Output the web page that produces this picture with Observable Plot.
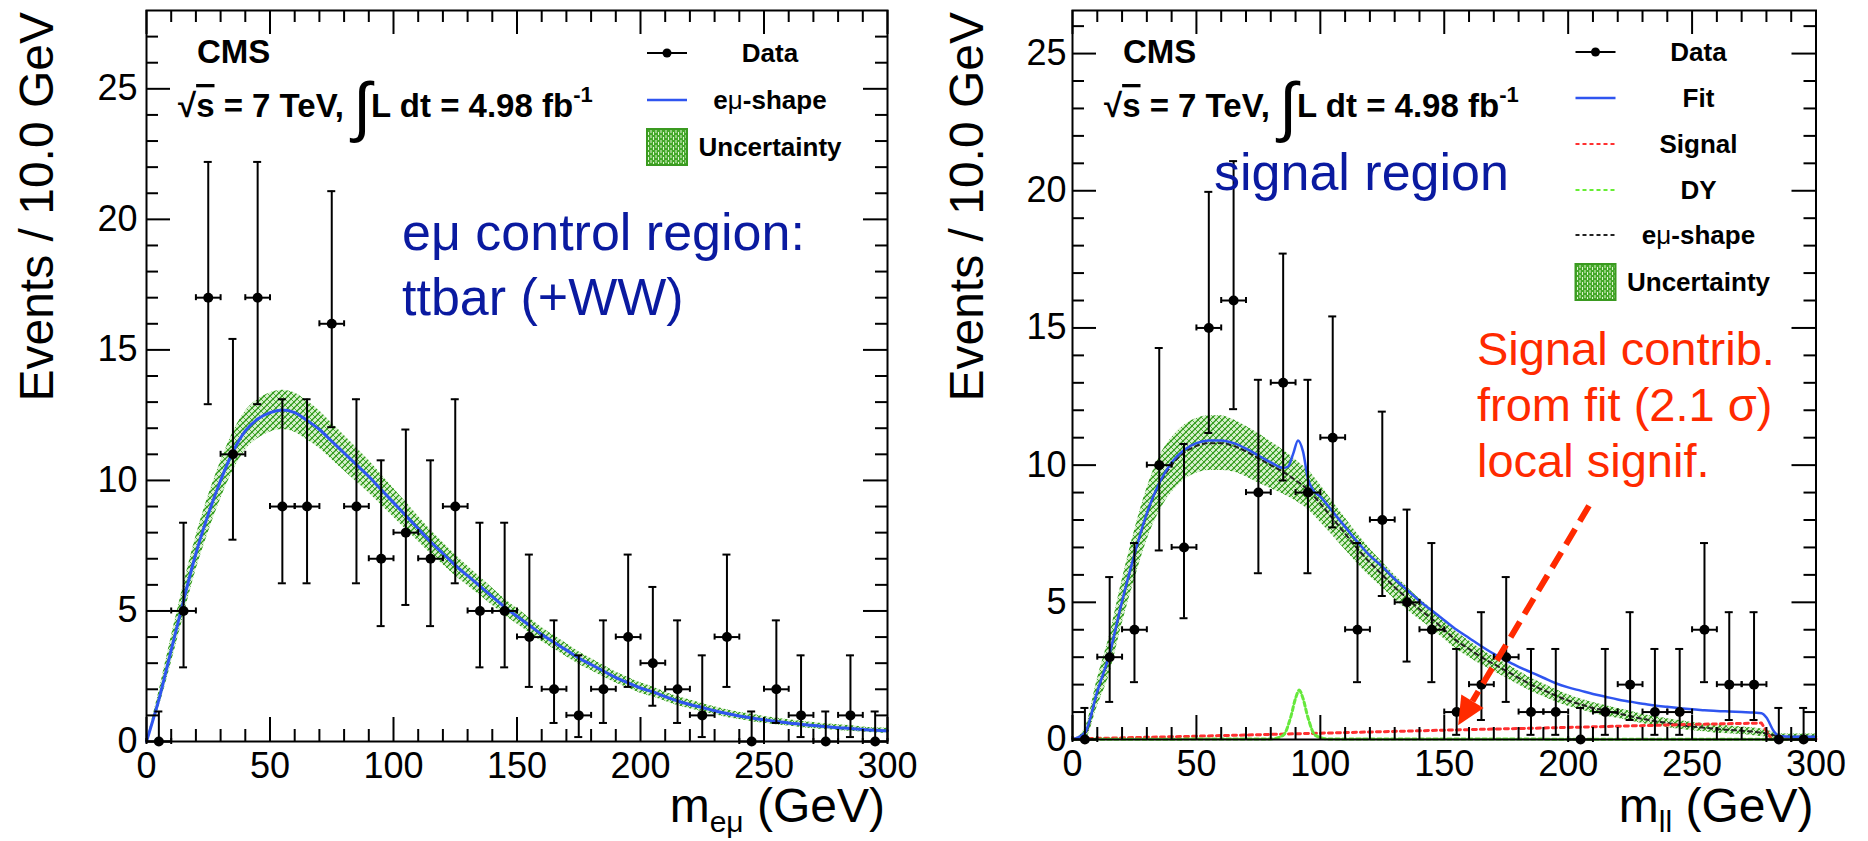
<!DOCTYPE html>
<html><head><meta charset="utf-8">
<script src="https://cdn.jsdelivr.net/npm/d3@7/dist/d3.min.js"></script>
<script src="https://cdn.jsdelivr.net/npm/@observablehq/plot@0.6/dist/plot.umd.min.js"></script>
<style>
body{margin:0;background:#fff;}
#wrap{display:flex;width:1868px;height:841px;overflow:hidden;}
#wrap svg{display:block;}
</style></head><body>
<svg width="0" height="0" style="position:absolute">
<defs>
<pattern id="hatch" patternUnits="userSpaceOnUse" width="6" height="6">
<rect width="6" height="6" fill="rgba(150,215,120,0.35)"/>
<path d="M0,6 L6,0 M-1,1 L1,-1 M5,7 L7,5" stroke="#2f9a18" stroke-width="1.3"/>
<path d="M0,0 L6,6 M-1,5 L1,7 M5,-1 L7,1" stroke="#2f9a18" stroke-width="0.8"/>
</pattern>
<pattern id="hatchBox" patternUnits="userSpaceOnUse" width="5" height="5">
<rect width="5" height="5" fill="#45a82a"/>
<path d="M1,0 L1,3 M3.5,2 L3.5,5" stroke="#dff5d0" stroke-width="1"/>
</pattern>
</defs></svg>
<div id="wrap"></div>
<script>
// ---------- data ----------
const binCenters = [5,15,25,35,45,55,65,75,85,95,105,115,125,135,145,155,165,175,185,195,205,215,225,235,245,255,265,275,285,295];
const countsEmu = [0,5,17,11,17,9,9,16,9,7,8,7,9,5,5,4,2,1,2,4,3,2,1,4,0,2,1,0,1,0];
const countsLL  = [0,3,4,10,7,15,16,9,13,9,11,4,8,5,4,1,2,3,1,1,0,1,2,1,1,4,2,2,0,0];
// Poisson error bar ends by count n = 0..17
const poissonLo = [0,0.17,0.71,1.37,2.09,2.84,3.62,4.42,5.23,6.06,6.89,7.73,8.58,9.44,10.30,11.17,12.04,12.92];
const poissonHi = [1.15,3.30,4.64,5.92,7.16,8.38,9.58,10.77,11.95,13.11,14.27,15.42,16.57,17.71,18.84,19.96,21.08,22.20];

const gridX = [0,5,10,15,20,25,30,35,40,45,50,55,60,65,70,75,80,85,90,95,100,105,110,115,120,125,130,135,140,145,150,155,160,165,170,175,180,185,190,195,200,205,210,215,220,225,230,235,240,245,250,255,260,265,270,275,280,285,290,295,300];
const emuShapeL = [0,1.6,3.5,5.4,7.2,8.7,10.0,11.1,11.9,12.35,12.6,12.7,12.6,12.3,11.95,11.5,11.05,10.6,10.15,9.65,9.15,8.65,8.15,7.65,7.2,6.75,6.35,5.95,5.55,5.15,4.8,4.45,4.1,3.8,3.5,3.2,2.95,2.7,2.45,2.25,2.05,1.9,1.72,1.55,1.42,1.3,1.18,1.07,0.98,0.9,0.83,0.77,0.71,0.66,0.61,0.57,0.53,0.5,0.46,0.43,0.41];
const emuBandL = [0,0.3,0.5,0.6,0.65,0.7,0.72,0.74,0.75,0.75,0.75,0.75,0.75,0.74,0.72,0.7,0.68,0.65,0.62,0.58,0.55,0.52,0.48,0.45,0.42,0.4,0.37,0.35,0.33,0.31,0.3,0.28,0.27,0.26,0.25,0.24,0.23,0.22,0.21,0.2,0.2,0.19,0.18,0.17,0.17,0.16,0.15,0.15,0.14,0.14,0.13,0.13,0.12,0.12,0.12,0.11,0.11,0.11,0.1,0.1,0.1];
const emuShapeR = [0,0.2,1.7,3.1,5.0,6.7,8.2,9.3,10.0,10.45,10.7,10.8,10.8,10.7,10.5,10.25,10.0,9.75,9.45,9.1,8.6,8.05,7.5,6.95,6.45,6.0,5.55,5.15,4.75,4.4,4.0,3.6,3.3,3.0,2.75,2.5,2.25,2.0,1.8,1.6,1.42,1.28,1.15,1.05,0.95,0.85,0.75,0.67,0.6,0.53,0.47,0.43,0.38,0.35,0.32,0.28,0.22,0.12,0.1,0.1,0.1];
const emuBandR = [0,0.2,0.5,0.7,0.8,0.9,0.95,1.0,1.0,1.0,1.0,1.0,1.0,0.95,0.92,0.9,0.85,0.8,0.75,0.72,0.68,0.62,0.58,0.54,0.5,0.47,0.44,0.41,0.38,0.36,0.34,0.32,0.3,0.28,0.27,0.26,0.25,0.24,0.23,0.22,0.21,0.2,0.2,0.19,0.18,0.18,0.17,0.17,0.16,0.16,0.15,0.15,0.15,0.14,0.14,0.14,0.13,0.1,0.1,0.1,0.1];
const fitX = [0,5,10,15,20,25,30,35,40,45,50,55,60,65,70,75,80,85,87,89,91,93,95,97,100,105,110,115,120,125,130,135,140,145,150,155,160,165,170,175,180,185,190,195,200,205,210,215,220,225,230,235,240,245,250,255,260,265,270,275,278,280,283,285,290,295,300];
const fitY = [0,0.25,1.75,3.15,5.05,6.75,8.25,9.35,10.1,10.55,10.8,10.9,10.9,10.8,10.6,10.35,10.1,9.9,9.95,10.4,10.9,10.5,9.5,9.1,8.85,8.3,7.75,7.2,6.7,6.3,5.85,5.45,5.05,4.7,4.35,4.0,3.7,3.4,3.12,2.88,2.65,2.45,2.25,2.05,1.9,1.78,1.66,1.56,1.46,1.38,1.3,1.24,1.19,1.14,1.1,1.07,1.04,1.02,1.0,0.98,0.96,0.8,0.3,0.13,0.1,0.1,0.1];
const signalX = [0,50,100,150,200,250,278,282,300];
const signalY = [0.02,0.12,0.23,0.34,0.44,0.55,0.6,0.02,0.02];
const dyX = [0,80,85,88,90,91.5,93,95,98,103,300];
const dyY = [0.01,0.02,0.15,0.8,1.5,1.8,1.5,0.8,0.15,0.02,0.01];

const majorX = [0,50,100,150,200,250,300];
const majorY = [0,5,10,15,20,25];

// ---------- style ----------
const FONT = "Liberation Sans, Arial, Helvetica, sans-serif";
const BLUE = "#2f55f0";
const NAVY = "#0a1aa0";
const RED = "#ff2a00";

function panel(cfg) {
  const rows = cfg.counts.map((n, i) => ({x: binCenters[i], n, lo: poissonLo[n], hi: poissonHi[n]}));
  const band = gridX.map((x, i) => ({x, y: cfg.shape[i], lo: Math.max(0, cfg.shape[i] - cfg.band[i]), hi: cfg.shape[i] + cfg.band[i]}));
  const minorX = d3.range(0, 301, 10).filter(v => v % 50);
  const minorY = d3.range(0, cfg.ymax, 1).filter(v => v % 5);
  const ymax = cfg.ymax;
  const tick = {stroke: "black", strokeWidth: 2};
  const marks = [
    Plot.areaY(band, {x: "x", y1: "lo", y2: "hi", fill: "url(#hatch)", curve: "monotone-x"}),
    ...cfg.extra,
    // data error bars
    Plot.ruleX(rows, {x: "x", y1: "lo", y2: "hi", stroke: "black", strokeWidth: 2}),
    Plot.ruleY(rows, {x1: "x", x2: "x", y: "hi", insetLeft: -4, insetRight: -4, stroke: "black", strokeWidth: 2}),
    Plot.ruleY(rows.filter(d => d.lo > 0), {x1: "x", x2: "x", y: "lo", insetLeft: -4, insetRight: -4, stroke: "black", strokeWidth: 2}),
    Plot.ruleY(rows, {x1: d => d.x - 5, x2: d => d.x + 5, y: "n", stroke: "black", strokeWidth: 2}),
    Plot.ruleX(rows, {x: d => d.x - 5, y1: "n", y2: "n", insetTop: -3, insetBottom: -3, stroke: "black", strokeWidth: 2}),
    Plot.ruleX(rows, {x: d => d.x + 5, y1: "n", y2: "n", insetTop: -3, insetBottom: -3, stroke: "black", strokeWidth: 2}),
    Plot.dot(rows, {x: "x", y: "n", r: 5, fill: "black"}),
    // inward ticks on all sides
    Plot.ruleX(majorX, {x: d => d, y1: 0, y2: 0, insetBottom: 24, ...tick}),
    Plot.ruleX(minorX, {x: d => d, y1: 0, y2: 0, insetBottom: 12, ...tick}),
    Plot.ruleX(majorX, {x: d => d, y1: ymax, y2: ymax, insetTop: 24, ...tick}),
    Plot.ruleX(minorX, {x: d => d, y1: ymax, y2: ymax, insetTop: 12, ...tick}),
    Plot.ruleY(majorY, {y: d => d, x1: 0, x2: 0, insetRight: -24, ...tick}),
    Plot.ruleY(minorY, {y: d => d, x1: 0, x2: 0, insetRight: -12, ...tick}),
    Plot.ruleY(majorY, {y: d => d, x1: 300, x2: 300, insetLeft: -24, ...tick}),
    Plot.ruleY(minorY, {y: d => d, x1: 300, x2: 300, insetLeft: -12, ...tick}),
    Plot.frame({stroke: "black", strokeWidth: 2}),
    Plot.axisX({ticks: majorX, tickSize: 0, tickPadding: 11, fontSize: 36, label: null, tickFormat: d => String(d)}),
    Plot.axisY({ticks: majorY, tickSize: 0, tickPadding: cfg.yPad, fontSize: 36, label: null, tickFormat: d => String(d)})
  ];
  const chart = Plot.plot({
    width: 934, height: 841,
    marginLeft: cfg.ml, marginRight: cfg.mr, marginTop: 10, marginBottom: cfg.mb,
    x: {domain: [0, 300]},
    y: {domain: [0, ymax]},
    style: {fontFamily: FONT, background: "white", color: "black", overflow: "visible"},
    marks
  });
  return chart;
}

function addCommon(chart, cfg) {
  const svg = d3.select(chart);
  const fl = cfg.ml, fr = 934 - cfg.mr;
  const g = svg.append("g").attr("font-family", FONT).attr("text-anchor", "start");
  // CMS labels
  g.append("text").attr("x", fl + 51).attr("y", 63).attr("font-weight", "bold").attr("font-size", 33).text("CMS");
  const t = g.append("text").attr("x", fl + 32).attr("y", 117).attr("font-weight", "bold").attr("font-size", 33);
  t.append("tspan").text("√");
  t.append("tspan").attr("text-decoration", "overline").text("s");
  t.append("tspan").text(" = 7 TeV, ");
  t.append("tspan").attr("font-size", 66).attr("font-weight", "normal").attr("dy", 12).text("∫");
  t.append("tspan").attr("dy", -12).text("L dt = 4.98 fb");
  t.append("tspan").attr("font-size", 22).attr("dy", -15).text("-1");
  // axis titles
  g.append("text").attr("transform", `translate(${cfg.yTitleX},12) rotate(-90)`).attr("text-anchor", "end")
    .attr("font-size", 48).text("Events / 10.0 GeV");
  const xt = g.append("text").attr("x", fr - 2).attr("y", 822).attr("text-anchor", "end").attr("font-size", 48);
  xt.append("tspan").text("m");
  xt.append("tspan").attr("font-size", 30).attr("dy", 10).text(cfg.sub);
  xt.append("tspan").attr("dy", -10).text(" (GeV)");
  // legend
  const cx = fr - 117, s1 = fr - 240, s2 = fr - 200;
  cfg.legend.forEach(r => {
    if (r.type === "data") {
      g.append("line").attr("x1", s1).attr("x2", s2).attr("y1", r.y).attr("y2", r.y).attr("stroke", "black").attr("stroke-width", 2);
      g.append("circle").attr("cx", (s1 + s2) / 2).attr("cy", r.y).attr("r", 4.5).attr("fill", "black");
    } else if (r.type === "line") {
      g.append("line").attr("x1", s1).attr("x2", s2).attr("y1", r.y).attr("y2", r.y).attr("stroke", r.color)
        .attr("stroke-width", r.w || 2).attr("stroke-dasharray", r.dash || null);
    } else {
      g.append("rect").attr("x", s1).attr("y", r.y - 18).attr("width", s2 - s1).attr("height", 36)
        .attr("fill", "url(#hatchBox)").attr("stroke", "#3a9a20").attr("stroke-width", 2);
    }
    const tx = g.append("text").attr("x", cx).attr("y", r.y + 9).attr("text-anchor", "middle")
      .attr("font-weight", "bold").attr("font-size", 26);
    if (r.label === "eμ-shape") {
      tx.append("tspan").text("e");
      tx.append("tspan").attr("font-weight", "normal").text("μ");
      tx.append("tspan").text("-shape");
    } else tx.text(r.label);
  });
  return g;
}

const wrap = document.getElementById("wrap");

// ---------- left panel ----------
const cfgL = {counts: countsEmu, shape: emuShapeL, band: emuBandL, ymax: 28, ml: 146, mr: 47, mb: 100, yPad: 9,
  yTitleX: 53, sub: "eμ",
  extra: [Plot.line(gridX.map((x, i) => ({x, y: emuShapeL[i]})), {x: "x", y: "y", stroke: BLUE, strokeWidth: 3, curve: "monotone-x"})],
  legend: [{type: "data", y: 53, label: "Data"}, {type: "line", y: 100, label: "eμ-shape", color: BLUE, w: 2.5}, {type: "box", y: 147, label: "Uncertainty"}]};
const left = panel(cfgL);
wrap.appendChild(left);
const gL = addCommon(left, cfgL);
gL.append("text").attr("x", 402).attr("y", 250).attr("font-size", 52).attr("fill", NAVY).text("eμ control region:");
gL.append("text").attr("x", 402).attr("y", 315).attr("font-size", 52).attr("fill", NAVY).text("ttbar (+WW)");

// ---------- right panel ----------
const cfgR = {counts: countsLL, shape: emuShapeR, band: emuBandR, ymax: 26.57, ml: 138, mr: 52.5, mb: 102, yPad: 6,
  yTitleX: 49, sub: "ll",
  extra: [
    Plot.line(gridX.map((x, i) => ({x, y: emuShapeR[i]})), {x: "x", y: "y", stroke: "#222", strokeWidth: 2, strokeDasharray: "4,4", curve: "monotone-x"}),
    Plot.line(signalX.map((x, i) => ({x, y: signalY[i]})), {x: "x", y: "y", stroke: "#ff3030", strokeWidth: 3, strokeDasharray: "4,4"}),
    Plot.line(dyX.map((x, i) => ({x, y: dyY[i]})), {x: "x", y: "y", stroke: "#66e83c", strokeWidth: 3, strokeDasharray: "4,3", curve: "monotone-x"}),
    Plot.line(fitX.map((x, i) => ({x, y: fitY[i]})), {x: "x", y: "y", stroke: BLUE, strokeWidth: 2.5, curve: "monotone-x"})
  ],
  legend: [{type: "data", y: 52, label: "Data"}, {type: "line", y: 98, label: "Fit", color: BLUE, w: 2.5},
    {type: "line", y: 144, label: "Signal", color: "#ff3030", dash: "4,3"}, {type: "line", y: 190, label: "DY", color: "#66ee33", dash: "4,3"},
    {type: "line", y: 235, label: "eμ-shape", color: "#222", dash: "4,3"}, {type: "box", y: 282, label: "Uncertainty"}]};
const right = panel(cfgR);
wrap.appendChild(right);
const gR = addCommon(right, cfgR);
gR.append("text").attr("x", 280).attr("y", 190).attr("font-size", 52).attr("fill", NAVY).text("signal region");
["Signal contrib.", "from fit (2.1 σ)", "local signif."].forEach((s, i) =>
  gR.append("text").attr("x", 543).attr("y", 365 + i * 56).attr("font-size", 47).attr("fill", RED).text(s));

// arrow, placed in data coordinates through the plot's scales
const arrowFrom = [208.6, 8.5], arrowTo = [155.8, 0.5];
const sx = right.scale("x"), sy = right.scale("y");
const ax1 = sx.apply(arrowFrom[0]), ay1 = sy.apply(arrowFrom[1]);
const ax2 = sx.apply(arrowTo[0]), ay2 = sy.apply(arrowTo[1]);
const dx = ax2 - ax1, dy = ay2 - ay1, L = Math.hypot(dx, dy), ux = dx / L, uy = dy / L;
const hl = 28, hw = 13;
const bx = ax2 - ux * hl, by = ay2 - uy * hl;
gR.append("line").attr("x1", ax1).attr("y1", ay1).attr("x2", bx).attr("y2", by)
  .attr("stroke", RED).attr("stroke-width", 6).attr("stroke-dasharray", "18,9");
gR.append("path").attr("d", `M${ax2},${ay2}L${bx - uy * hw},${by + ux * hw}L${bx + uy * hw},${by - ux * hw}Z`).attr("fill", RED);
</script>
</body></html>
